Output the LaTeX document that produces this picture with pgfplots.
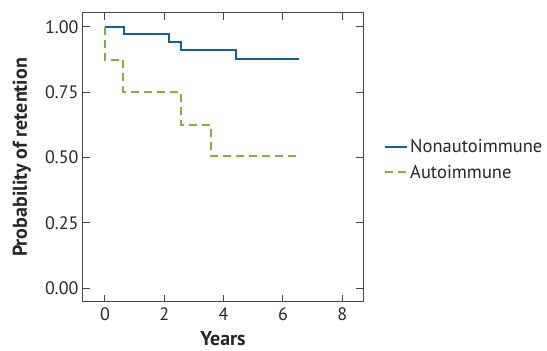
\documentclass[border=0pt]{standalone}
\usepackage{fontspec}
\setmainfont{PT Sans}
\usepackage{pgfplots}
\pgfplotsset{compat=1.18}
\definecolor{kmblue}{RGB}{18,94,158}
\definecolor{kmgreen}{RGB}{124,178,62}
\definecolor{axgray}{RGB}{70,70,70}
\begin{document}
\begin{tikzpicture}
\begin{axis}[
  scale only axis,
  width=280pt, height=289pt,
  xmin=-0.74, xmax=8.7,
  ymin=-0.053, ymax=1.053,
  xtick={0,2,4,6,8},
  ytick={0,0.25,0.5,0.75,1},
  /pgf/number format/assume math mode=true,
  tick align=inside,
  major tick length=7pt,
  axis line style={axgray, line width=1pt},
  every tick/.style={axgray, line width=1pt},
  tick label style={font=\fontsize{18}{20}\selectfont, color=black!85},
  xticklabel style={yshift=-2pt},
  yticklabel style={xshift=-1pt, /pgf/number format/.cd, fixed, fixed zerofill, precision=2},
  xlabel={\textbf{Years}},
  ylabel={\textbf{Probability of retention}},
  label style={font=\fontsize{20}{22}\selectfont, color=black!85},
  xlabel style={at={([yshift=-44pt]axis description cs:0.5,0)}, anchor=base, inner sep=0pt},
  ylabel style={at={([xshift=-56pt]axis description cs:0,0.5)}, anchor=base},
  legend style={draw=none, fill=none, at={([xshift=18pt,yshift=-2pt]axis description cs:1,0.5)}, anchor=west,
    font=\fontsize{18.5}{20}\selectfont, row sep=7pt, text=black!85},
  legend cell align=left,
  legend image code/.code={\draw[#1] (0pt,0pt) -- (22pt,0pt);},
]
\addplot[const plot, kmblue, line width=2pt] coordinates {
  (0,1) (0.65,0.971) (2.17,0.941) (2.57,0.912) (4.41,0.877) (6.54,0.877)
};
\addlegendentry{Nonautoimmune}
\addplot[const plot, kmgreen, line width=2pt, dash pattern=on 8pt off 5pt] coordinates {
  (0,1) (0,0.875) (0.62,0.75) (2.57,0.625) (3.57,0.505) (6.54,0.505)
};
\addlegendentry{Autoimmune}
\end{axis}
\pgfresetboundingbox
\path[use as bounding box] (-83pt,-49pt) rectangle (464pt,302pt);
\end{tikzpicture}
\end{document}
